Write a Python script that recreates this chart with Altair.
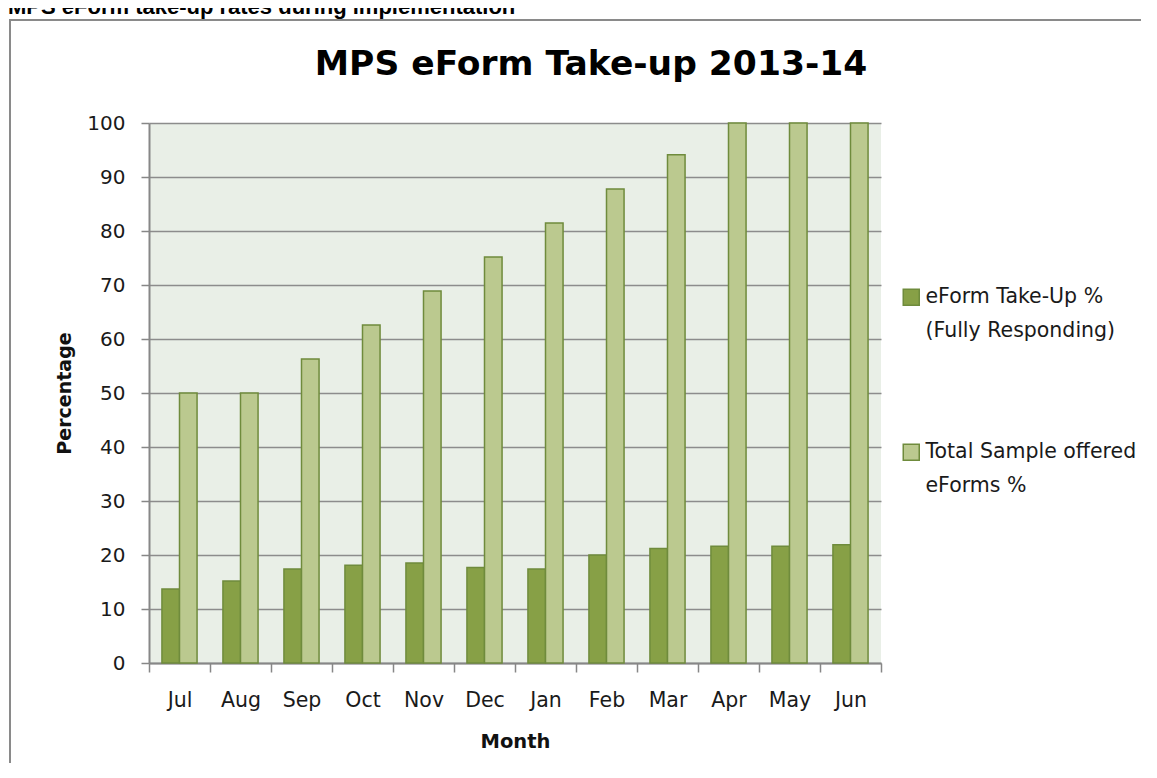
import altair as alt
import pandas as pd

months = ["Jul", "Aug", "Sep", "Oct", "Nov", "Dec", "Jan", "Feb", "Mar", "Apr", "May", "Jun"]
takeup = [13.7, 15.2, 17.4, 18.1, 18.5, 17.7, 17.4, 20.0, 21.2, 21.6, 21.6, 21.9]
offered = [50.0, 50.0, 56.3, 62.6, 68.9, 75.2, 81.5, 87.8, 94.1, 100.0, 100.0, 100.0]
series_names = ["eForm Take-Up %|(Fully Responding)", "Total Sample offered|eForms %"]
series_colors = ["#87A046", "#BBC98F"]
y_ticks = [0, 10, 20, 30, 40, 50, 60, 70, 80, 90, 100]
caption = "MPS eForm take-up rates during implementation"
chart_title = "MPS eForm Take-up 2013-14"

rows = []
for m, a, b in zip(months, takeup, offered):
    rows.append({"Month": m, "Series": series_names[0], "Value": a})
    rows.append({"Month": m, "Series": series_names[1], "Value": b})
df = pd.DataFrame(rows)

W, H = 732, 540
FONT = "DejaVu Sans"
GRAY = "#878787"

frame = alt.Chart(alt.Data(values=[{"k": 1}])).mark_rect(
    fillOpacity=0, stroke="#8A8A8A", strokeWidth=2
).encode(
    x=alt.value(-139), x2=alt.value(1400), y=alt.value(-103), y2=alt.value(1000)
)

cap = alt.Chart(alt.Data(values=[{"t": caption}])).mark_text(
    font="Liberation Sans", fontWeight="bold", fontSize=22, align="left",
    baseline="alphabetic", color="#000000"
).encode(x=alt.value(-141), y=alt.value(-109), text="t:N")

ttl = alt.Chart(alt.Data(values=[{"t": chart_title}])).mark_text(
    font=FONT, fontWeight="bold", fontSize=34.5, align="center",
    baseline="alphabetic", color="#000000"
).encode(x=alt.value(442), y=alt.value(-48), text="t:N")

bars = alt.Chart(df).mark_bar(stroke="#6F8B3C", strokeWidth=1.5).encode(
    x=alt.X(
        "Month:N", sort=months, title="Month",
        scale=alt.Scale(paddingInner=0, paddingOuter=0),
        axis=alt.Axis(
            tickBand="extent", labelAngle=0, grid=False,
            domainColor=GRAY, domainWidth=2, tickColor=GRAY, tickWidth=1.5, tickSize=9,
            labelFont=FONT, labelFontSize=20.5, labelColor="#1a1a1a", labelPadding=18,
            titleFont=FONT, titleFontWeight="bold", titleFontSize=19.5, titleColor="#111111",
            titleBaseline="alphabetic", titleY=84, titleX=W / 2, titleAlign="center",
        ),
    ),
    xOffset=alt.XOffset(
        "Series:N", sort=series_names,
        scale=alt.Scale(paddingInner=0, paddingOuter=0.737),
    ),
    y=alt.Y(
        "Value:Q", scale=alt.Scale(domain=[0, 100], nice=False),
        axis=alt.Axis(
            values=y_ticks, title="Percentage", grid=True, gridColor="#8C8C8C", gridWidth=1.5,
            domainColor=GRAY, domainWidth=2, tickColor=GRAY, tickWidth=1.5, tickSize=8,
            labelFont=FONT, labelFontSize=20, labelColor="#1a1a1a", labelPadding=16,
            titleFont=FONT, titleFontWeight="bold", titleFontSize=19, titleColor="#111111",
            titleBaseline="alphabetic", titleX=-79, titleY=H / 2, titleAngle=270,
            titleAlign="center",
        ),
    ),
    color=alt.Color(
        "Series:N", sort=series_names,
        scale=alt.Scale(domain=series_names, range=series_colors),
        legend=alt.Legend(
            title=None, orient="none", legendX=752, legendY=164, direction="vertical",
            symbolType="square", symbolSize=256, symbolStrokeColor="#6F8B3C",
            symbolStrokeWidth=1.5, labelExpr="split(datum.label, '|')",
            labelFont=FONT, labelFontSize=20.5, labelColor="#1a1a1a", labelOffset=4,
            labelLimit=400, rowPadding=99, padding=0, offset=0,
        ),
    ),
)

chart = alt.layer(frame, cap, ttl, bars).properties(
    width=W, height=H,
    padding={"left": 141, "top": 115, "right": 260, "bottom": 100},
    autosize=alt.AutoSizeParams(type="none"),
    background="#FFFFFF",
).configure(
    view=alt.ViewConfig(fill="#E9EFE7", strokeWidth=0),
    style={"guide-label": {"lineHeight": 34}},
)

chart.save("out.html", embed_options={"renderer": "svg", "actions": False})
